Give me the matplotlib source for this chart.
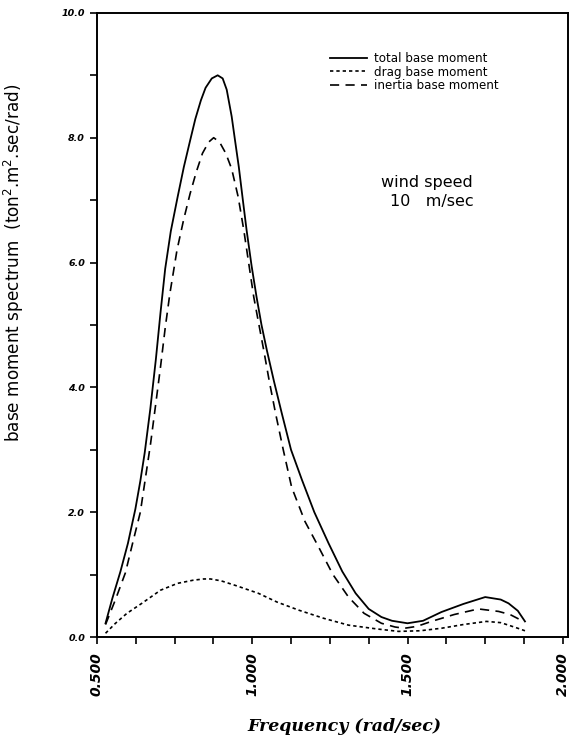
import matplotlib
matplotlib.use("Agg")
import matplotlib.pyplot as plt
from matplotlib.ticker import MultipleLocator, FixedLocator, FuncFormatter

# ---- data ----
total_x = [0.528, 0.55, 0.576, 0.60, 0.624, 0.64, 0.654, 0.672, 0.69, 0.705, 0.72, 0.738, 0.76, 0.78,
           0.80, 0.817, 0.835, 0.85, 0.87, 0.889, 0.905, 0.918, 0.934, 0.945, 0.957, 0.97,
           0.982, 0.998, 1.014, 1.03, 1.047, 1.07, 1.095, 1.125, 1.16, 1.20, 1.246, 1.29,
           1.333, 1.375, 1.416, 1.45, 1.50, 1.55, 1.609, 1.68, 1.75, 1.80, 1.825, 1.855, 1.878]
total_y = [0.22, 0.62, 1.05, 1.5, 2.05, 2.5, 2.95, 3.65, 4.45, 5.2, 5.9, 6.5, 7.05, 7.53,
           7.95, 8.3, 8.6, 8.8, 8.95, 9.0, 8.95, 8.77, 8.34, 7.95, 7.53, 7.0,
           6.52, 5.95, 5.45, 5.0, 4.6, 4.1, 3.59, 3.0, 2.52, 2.0, 1.5, 1.05,
           0.7, 0.45, 0.32, 0.26, 0.22, 0.26, 0.4, 0.53, 0.64, 0.6, 0.54, 0.42, 0.25]

inertia_x = [0.528, 0.56, 0.592, 0.615, 0.64, 0.673, 0.69, 0.705, 0.72, 0.735, 0.758, 0.78,
             0.80, 0.82, 0.84, 0.86, 0.876, 0.895, 0.915, 0.934, 0.955, 0.973, 0.99, 1.005,
             1.02, 1.037, 1.055, 1.075, 1.10, 1.127, 1.17, 1.214, 1.26, 1.31, 1.36, 1.416,
             1.46, 1.49, 1.53, 1.577, 1.65, 1.728, 1.793, 1.83, 1.873]
inertia_y = [0.2, 0.6, 1.03, 1.5, 2.0, 3.1, 3.75, 4.33, 4.95, 5.5, 6.2, 6.7,
             7.1, 7.45, 7.75, 7.93, 8.0, 7.93, 7.75, 7.5, 7.05, 6.52, 5.95, 5.45,
             5.05, 4.6, 4.1, 3.59, 3.0, 2.4, 1.85, 1.44, 1.0, 0.64, 0.38, 0.22,
             0.16, 0.14, 0.17, 0.25, 0.36, 0.45, 0.41, 0.36, 0.25]

drag_x = [0.528, 0.56, 0.597, 0.645, 0.705, 0.76, 0.81, 0.844, 0.866, 0.90, 0.95, 1.02, 1.08,
          1.15, 1.23, 1.31, 1.40, 1.471, 1.54, 1.609, 1.68, 1.754, 1.80, 1.825, 1.855, 1.878]
drag_y = [0.06, 0.22, 0.38, 0.54, 0.75, 0.86, 0.91, 0.93, 0.93, 0.9, 0.82, 0.7, 0.56,
          0.43, 0.3, 0.19, 0.13, 0.09, 0.1, 0.14, 0.2, 0.25, 0.23, 0.19, 0.14, 0.1]

x_major = [0.5, 1.0, 1.5, 2.0]
y_major = [0.0, 2.0, 4.0, 6.0, 8.0, 10.0]
labels = ["total base moment", "drag base moment", "inertia base moment"]

fig = plt.figure(figsize=(5.73, 7.36), dpi=100)
ax = fig.add_axes([0.169, 0.1345, 0.822, 0.848])

ax.plot(total_x, total_y, color="black", lw=1.3, label=labels[0])
ax.plot(drag_x, drag_y, color="black", lw=1.2, ls=(0, (2.0, 1.8)), label=labels[1])
ax.plot(inertia_x, inertia_y, color="black", lw=1.2, ls=(0, (5.5, 3.8)), label=labels[2])

ax.set_xlim(0.5, 2.016)
ax.set_ylim(0, 10)

ax.xaxis.set_major_locator(FixedLocator(x_major))
ax.xaxis.set_minor_locator(MultipleLocator(0.125))
ax.yaxis.set_major_locator(FixedLocator(y_major))
ax.yaxis.set_minor_locator(MultipleLocator(1.0))
ax.xaxis.set_major_formatter(FuncFormatter(lambda v, p: f"{v:.3f}"))
ax.yaxis.set_major_formatter(FuncFormatter(lambda v, p: f"{v:.1f}"))

ax.tick_params(axis="both", which="both", direction="out", length=5, width=1.2, color="black")
ax.tick_params(axis="x", which="major", pad=6)
for lab in ax.get_xticklabels():
    lab.set_rotation(90)
    lab.set_fontsize(10)
    lab.set_fontweight("bold")
    lab.set_fontstyle("italic")
for lab in ax.get_yticklabels():
    lab.set_fontsize(6.8)
    lab.set_fontweight("bold")
    lab.set_fontstyle("italic")

for s in ax.spines.values():
    s.set_linewidth(1.4)

ax.set_xlabel("Frequency (rad/sec)", fontsize=12.5, fontweight="bold", fontstyle="italic",
              family="DejaVu Serif")
ax.xaxis.set_label_coords(0.525, -0.13)
ax.set_ylabel("base moment spectrum  (ton$^2$.m$^2$.sec/rad)", fontsize=12.2)
ax.yaxis.set_label_coords(-0.15, 0.6)

leg = ax.legend(loc="upper left", bbox_to_anchor=(0.485, 0.945), frameon=False, fontsize=8.6,
                handlelength=3.1, handletextpad=0.6, labelspacing=0.05, borderaxespad=0)

ax.text(0.70, 0.728, "wind speed", transform=ax.transAxes, fontsize=11.5, ha="center", va="center")
ax.text(0.712, 0.698, "10   m/sec", transform=ax.transAxes, fontsize=11.5, ha="center", va="center")

fig.savefig("out.png", dpi=100)
